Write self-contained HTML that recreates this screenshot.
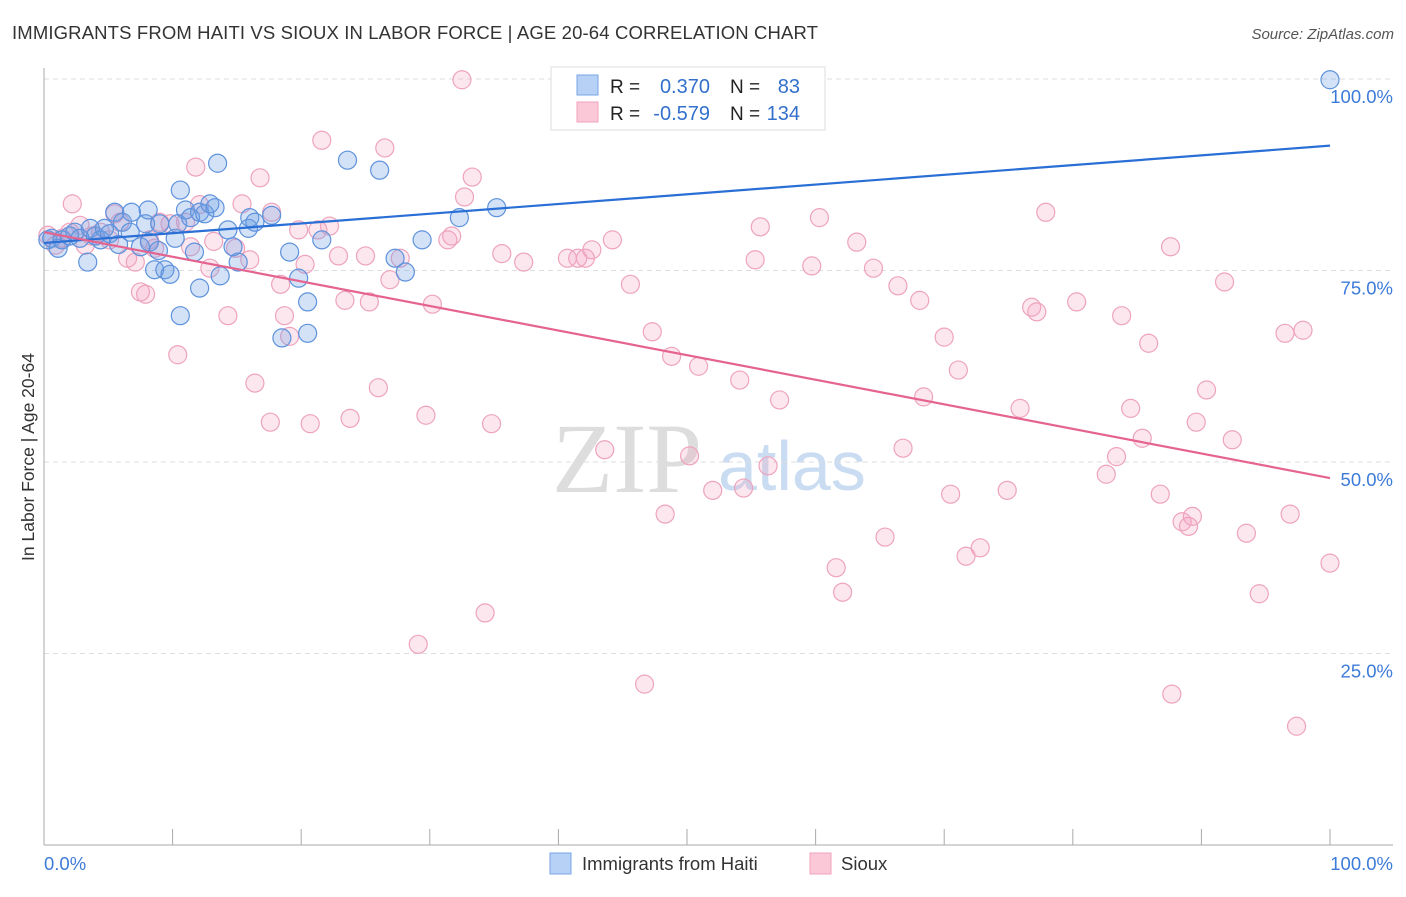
<!DOCTYPE html>
<html><head><meta charset="utf-8"><style>
body{margin:0;background:#fff;font-family:"Liberation Sans",sans-serif;}
</style></head><body>
<svg id="chart" width="1406" height="892" xmlns="http://www.w3.org/2000/svg">
<text x="12" y="39" font-size="18.5" fill="#333" textLength="806">IMMIGRANTS FROM HAITI VS SIOUX IN LABOR FORCE | AGE 20-64 CORRELATION CHART</text>
<text x="1394" y="39" font-size="15" fill="#555" font-style="italic" text-anchor="end">Source: ZipAtlas.com</text>
<g>
<text x="552" y="492" font-size="100" fill="#ddd" font-family="Liberation Serif,serif">ZIP</text>
<text x="718" y="490" font-size="70" fill="#c9dcf2">atlas</text>
</g>
<g id="grid"></g>
<g id="axes"></g>
<g id="pts"></g>
<g id="lines"></g>
<text x="0" y="0" transform="translate(34,457) rotate(-90)" font-size="17.5" fill="#333" text-anchor="middle">In Labor Force | Age 20-64</text>
<g>
<rect x="551" y="67" width="274" height="63" fill="#fff" stroke="#ddd"/>
<rect x="577" y="75" width="21" height="20" fill="#b7d0f5" stroke="#7aa6e6"/>
<rect x="577" y="102" width="21" height="20" fill="#fbc8d8" stroke="#efa3bd"/>
<text x="610" y="93" font-size="19" fill="#222">R =</text>
<text x="710" y="93" font-size="20" fill="#3370cc" text-anchor="end">0.370</text>
<text x="730" y="93" font-size="19" fill="#222">N =</text>
<text x="800" y="93" font-size="20" fill="#3370cc" text-anchor="end">83</text>
<text x="610" y="120" font-size="19" fill="#222">R =</text>
<text x="710" y="120" font-size="20" fill="#3370cc" text-anchor="end">-0.579</text>
<text x="730" y="120" font-size="19" fill="#222">N =</text>
<text x="800" y="120" font-size="20" fill="#3370cc" text-anchor="end">134</text>
</g>
<g>
<rect x="550" y="853" width="21" height="21" fill="#b7d0f5" stroke="#7aa6e6"/>
<text x="582" y="870" font-size="18.5" fill="#333">Immigrants from Haiti</text>
<rect x="810" y="853" width="21" height="21" fill="#fbc8d8" stroke="#efa3bd"/>
<text x="841" y="870" font-size="18.5" fill="#333">Sioux</text>
</g>
</svg>
<script>
const yTicks=[25,50,75,100];
const yTickLabels=["25.0%","50.0%","75.0%","100.0%"];
const xTicks=[10,20,30,40,50,60,70,80,90,100];
const xEndLabels=["0.0%","100.0%"];
const haitiX=[0.3,0.6,1.1,1.4,2.0,2.4,2.8,3.4,3.6,4.0,4.4,4.7,5.1,5.5,5.8,6.1,6.7,6.8,7.5,7.9,8.1,8.2,8.6,8.9,9.0,9.4,9.8,10.2,10.4,10.6,10.6,11.0,11.4,11.7,12.1,12.1,12.5,12.9,13.3,13.5,13.7,14.3,14.7,15.1,15.9,16.0,16.4,17.7,19.1,19.8,20.5,20.5,18.5,21.6,23.6,26.1,27.3,28.1,29.4,32.3,35.2,100];
const haitiY=[79.0,79.2,77.9,79.0,79.5,80.0,79.2,76.1,80.5,79.5,79.0,80.5,79.8,82.6,78.4,81.3,80.0,82.6,78.1,81.1,82.9,78.7,75.1,77.6,81.1,75.1,74.5,79.2,81.1,69.1,85.5,82.9,81.9,77.4,72.7,82.6,82.4,83.7,83.2,89.0,74.3,80.3,78.1,76.1,80.5,81.9,81.3,82.2,77.4,74.0,70.9,66.8,66.2,79.0,89.4,88.1,76.6,74.8,79.0,81.9,83.2,99.9];
const siouxX=[0.3,0.9,1.4,2.0,2.2,2.8,3.2,3.7,4.4,5.1,5.5,5.9,6.5,7.1,7.5,7.9,8.2,8.6,9.0,9.8,10.4,11.0,11.4,11.8,12.1,12.9,13.2,14.3,14.9,15.4,16.0,16.4,16.8,17.6,17.7,18.4,18.7,19.1,19.8,20.3,20.7,21.3,21.6,22.2,22.9,23.4,23.8,25.0,25.3,26.0,26.5,26.9,27.7,29.1,29.7,30.2,31.4,31.7,32.5,32.7,33.3,34.3,34.8,35.6,37.3,40.7,41.5,42.1,42.6,43.6,44.2,45.6,46.7,47.3,48.3,48.8,50.2,50.9,52.0,54.1,54.4,55.3,55.7,56.3,57.2,59.7,60.3,61.6,62.1,63.2,64.5,65.4,66.4,66.8,68.1,68.4,70.0,70.5,71.1,71.7,72.8,74.9,75.9,76.8,77.2,77.9,80.3,82.6,83.4,83.8,84.5,85.4,85.9,86.8,87.6,87.7,88.5,89.0,89.3,89.6,90.4,91.8,92.4,93.5,94.5,96.5,96.9,97.4,97.9,100];
const siouxY=[79.6,78.3,79.2,80.0,83.7,80.9,78.3,79.5,80.0,79.0,82.4,81.3,76.6,76.1,72.2,71.9,79.0,77.9,81.3,81.1,64.0,81.3,78.1,88.5,83.6,75.3,78.8,69.1,77.9,83.7,76.4,60.3,87.1,55.2,82.6,73.2,69.1,66.4,80.3,75.8,55.0,80.3,92.0,80.8,76.9,71.1,55.7,76.9,70.9,59.7,91.0,73.8,76.6,26.2,56.1,70.6,79.0,79.5,99.9,84.6,87.2,30.3,55.0,77.2,76.1,76.6,76.6,76.6,77.7,51.6,79.0,73.2,21.0,67.0,43.2,63.8,50.8,62.5,46.3,60.7,46.6,76.4,80.7,49.5,58.1,75.6,81.9,36.2,33.0,78.7,75.3,40.2,73.0,51.8,71.1,58.5,66.3,45.8,62.0,37.7,38.8,46.3,57.0,70.2,69.6,82.6,70.9,48.4,50.7,69.1,57.0,53.1,65.5,45.8,78.1,19.7,42.2,41.6,42.9,55.2,59.4,73.5,52.9,40.7,32.8,66.8,43.2,15.5,67.2,36.8];
const haitiTrend=[78.6,91.3];
const siouxTrend=[80.0,47.9];
const NS="http://www.w3.org/2000/svg";
const X0=44,X1=1330,Y0=845,Y1=79;
function sx(v){return X0+(X1-X0)*v/100;}
function sy(v){return Y0-(Y0-Y1)*v/100;}
function mk(tag,attrs,parent){const e=document.createElementNS(NS,tag);for(const k in attrs)e.setAttribute(k,attrs[k]);parent.appendChild(e);return e;}
const grid=document.getElementById('grid'),axes=document.getElementById('axes'),pts=document.getElementById('pts'),lines=document.getElementById('lines');
yTicks.forEach((t,i)=>{
 const l=mk('line',{x1:X0,x2:1393,y1:sy(t),y2:sy(t),stroke:'#ddd','stroke-dasharray':'5,4'},grid);
 
 
 const tx=mk('text',{x:1393,y:sy(t)+24,'font-size':18.5,fill:'#3d7bd8','text-anchor':'end'},axes);
 tx.textContent=yTickLabels[i];
 
 
});
const ya=mk('line',{x1:X0,x2:X0,y1:68,y2:Y0,stroke:'#aaa'},axes);


const xa=mk('line',{x1:X0,x2:1393,y1:Y0,y2:Y0,stroke:'#aaa'},axes);


xTicks.forEach(t=>{
 const l=mk('line',{x1:sx(t),x2:sx(t),y1:Y0-16,y2:Y0,stroke:'#aaa'},axes);
 
 
});
const xl0=mk('text',{x:X0,y:870,'font-size':18.5,fill:'#3d7bd8'},axes);xl0.textContent=xEndLabels[0];


const xl1=mk('text',{x:1393,y:870,'font-size':18.5,fill:'#3d7bd8','text-anchor':'end'},axes);xl1.textContent=xEndLabels[1];


siouxX.forEach((v,i)=>{
 const c=mk('circle',{cx:sx(v),cy:sy(siouxY[i]),r:9,fill:'rgba(245,160,190,0.25)',stroke:'#eea3bd','stroke-width':1.2},pts);
 
 
});
haitiX.forEach((v,i)=>{
 const c=mk('circle',{cx:sx(v),cy:sy(haitiY[i]),r:9,fill:'rgba(110,160,230,0.3)',stroke:'#5e92dc','stroke-width':1.2},pts);
 
 
});
const bl=mk('line',{x1:sx(0),x2:sx(100),y1:sy(haitiTrend[0]),y2:sy(haitiTrend[1]),stroke:'#2a6fd6','stroke-width':2.2},lines);


const pl=mk('line',{x1:sx(0),x2:sx(100),y1:sy(siouxTrend[0]),y2:sy(siouxTrend[1]),stroke:'#e5648f','stroke-width':2.2},lines);


</script>
</body></html>
